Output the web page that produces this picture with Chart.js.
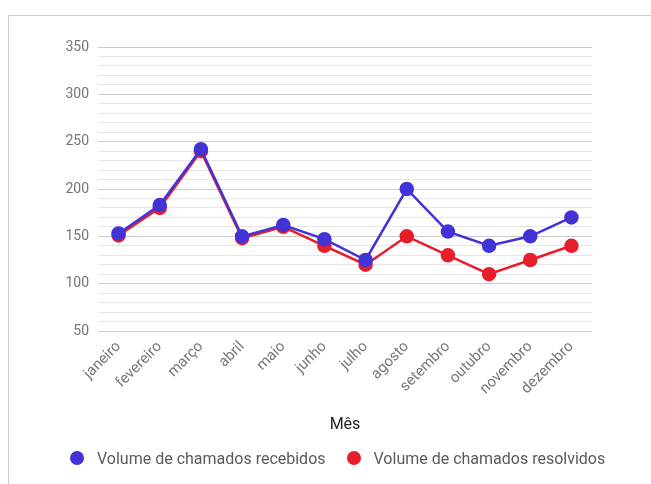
<!DOCTYPE html>
<html>
<head>
<meta charset="utf-8">
<script src="https://cdn.jsdelivr.net/npm/chart.js@4.4.0/dist/chart.umd.min.js"></script>
<style>
  html, body { margin: 0; padding: 0; background: #fff; overflow: hidden; }
  #frame { position: absolute; left: 8px; top: 15px; width: 700px; height: 500px; border: 1px solid #cfcfcf; box-sizing: border-box; }
  #wrap { position: absolute; left: 0; top: 0; width: 651px; height: 484px; }
  #legend { position: absolute; left: 70px; top: 448px; height: 20px; display: flex; align-items: center;
            font-family: Roboto, sans-serif; font-size: 16px; color: #5a5a5a; white-space: nowrap; }
  #legend .item { display: flex; align-items: center; margin-right: 21px; }
  #legend .dot { width: 14px; height: 14px; border-radius: 50%; margin-right: 13px; }
</style>
</head>
<body>
<div id="frame"></div>
<div id="wrap"><canvas id="c" width="651" height="484"></canvas></div>
<div id="legend"></div>
<script>
const categories = ["janeiro","fevereiro","março","abril","maio","junho","julho","agosto","setembro","outubro","novembro","dezembro"];
const recebidos = [153, 183, 242, 150, 162, 147, 125, 200, 155, 140, 150, 170];
const resolvidos = [151, 180, 240, 148, 160, 140, 120, 150, 130, 110, 125, 140];
const seriesNames = ["Volume de chamados recebidos", "Volume de chamados resolvidos"];
const xTitle = "Mês";
const yMin = 50, yMax = 350, yMinorStep = 10, yMajorStep = 50;

const BLUE = "#4233d6";
const RED = "#e61e2b";

const chart = new Chart(document.getElementById("c"), {
  type: "line",
  data: {
    labels: categories,
    datasets: [
      { label: seriesNames[0], data: recebidos, borderColor: BLUE, backgroundColor: BLUE,
        pointBackgroundColor: BLUE, pointBorderColor: BLUE, borderWidth: 2.5, pointRadius: 6, tension: 0 },
      { label: seriesNames[1], data: resolvidos, borderColor: RED, backgroundColor: RED,
        pointBackgroundColor: RED, pointBorderColor: RED, borderWidth: 2.5, pointRadius: 6, tension: 0 }
    ]
  },
  options: {
    responsive: false,
    animation: false,
    layout: { padding: { left: 55, right: 59, top: 47, bottom: 40 } },
    plugins: {
      tooltip: { enabled: false },
      legend: { display: false }
    },
    scales: {
      x: {
        offset: true,
        grid: { display: false, drawTicks: false },
        border: { display: false },
        ticks: { color: "#777777", font: { family: "Roboto", size: 15 }, maxRotation: 45, minRotation: 45, padding: 7, autoSkip: false },
        title: { display: true, text: xTitle, color: "#222", font: { family: "Roboto", size: 16 }, padding: { top: 8, bottom: 9 } },
        afterFit: (s) => { s.height = 113; }
      },
      y: {
        min: yMin, max: yMax,
        grid: {
          drawTicks: false,
          color: (ctx) => (ctx.tick && ctx.tick.value % yMajorStep === 0) ? "#cccccc" : "#e6e6e6",
          lineWidth: 1
        },
        border: { display: false },
        ticks: {
          stepSize: yMinorStep, autoSkip: false, padding: 9,
          color: "#757575", font: { family: "Roboto", size: 14 },
          callback: (v) => (v % yMajorStep === 0 ? String(v) : "")
        },
        afterFit: (s) => { s.width = 43; }
      }
    }
  }
});

// HTML legend built from the chart's datasets
const legendEl = document.getElementById("legend");
chart.data.datasets.forEach((ds) => {
  const item = document.createElement("div");
  item.className = "item";
  const dot = document.createElement("span");
  dot.className = "dot";
  dot.style.background = ds.borderColor;
  const txt = document.createElement("span");
  txt.textContent = ds.label;
  item.appendChild(dot);
  item.appendChild(txt);
  legendEl.appendChild(item);
});
</script>
</body>
</html>
